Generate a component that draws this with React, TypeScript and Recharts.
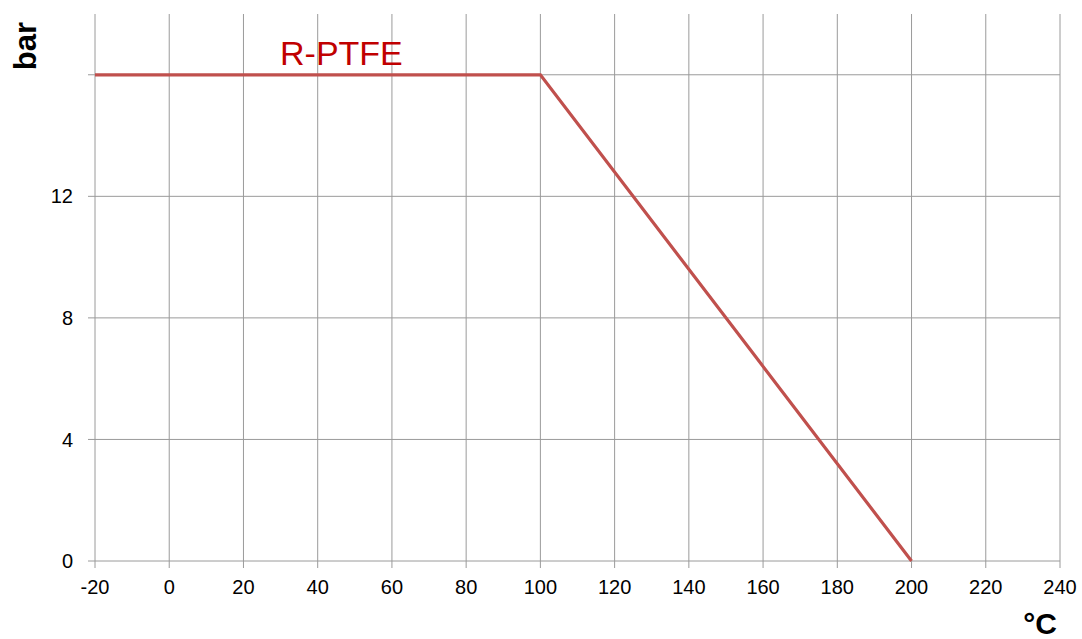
import { CartesianGrid, Line, LineChart, XAxis, YAxis } from 'recharts';

// R-PTFE pressure / temperature curve
const temperatures = [-20, 100, 200];
const pressures = [16, 16, 0];

const xTicks = [-20, 0, 20, 40, 60, 80, 100, 120, 140, 160, 180, 200, 220, 240];
const yTicks = [0, 4, 8, 12, 16];
const hiddenYLabels = [16];
const yDomain = [0, 18];

const seriesName = 'R-PTFE';
const xTitle = '°C';
const yTitle = 'bar';

const chartData = temperatures.map((t, i) => ({ temp: t, pressure: pressures[i] }));

const font = '"Liberation Sans", Arial, sans-serif';
const gridColor = '#9a9a9a';

// only the tick rows, no line along the top edge of the plot
const gridRows = ({ offset, height }: any) => {
  const top = offset?.top ?? 14;
  const h = offset?.height ?? height - 14 - 78;
  return yTicks.map((v) => top + h * (1 - (v - yDomain[0]) / (yDomain[1] - yDomain[0])));
};

export default function App() {
  return (
    <div style={{ position: 'absolute', left: 0, top: 0, width: 1082, height: 639, background: '#fff' }}>
      <LineChart
        width={1082}
        height={639}
        data={chartData}
        margin={{ top: 14, right: 22, bottom: 48, left: 0 }}
      >
        <CartesianGrid stroke={gridColor} strokeWidth={1} horizontalCoordinatesGenerator={gridRows} />
        <XAxis
          dataKey='temp'
          type='number'
          domain={[-20, 240]}
          ticks={xTicks}
          height={30}
          axisLine={false}
          tickLine={{ stroke: gridColor }}
          tickSize={7}
          tickMargin={12}
          tick={{ fill: '#000', fontSize: 20, fontFamily: font }}
          interval={0}
        />
        <YAxis
          type='number'
          domain={yDomain}
          ticks={yTicks}
          width={95}
          axisLine={false}
          tickLine={{ stroke: gridColor }}
          tickSize={7}
          tickMargin={15}
          tick={{ fill: '#000', fontSize: 20, fontFamily: font }}
          tickFormatter={(v: number) => (hiddenYLabels.includes(v) ? '' : String(v))}
          interval={0}
        />
        <Line
          dataKey='pressure'
          stroke='#c0504d'
          strokeWidth={3.2}
          dot={false}
          activeDot={false}
          isAnimationActive={false}
        />
      </LineChart>
      <svg
        width={1082}
        height={639}
        style={{ position: 'absolute', left: 0, top: 0, pointerEvents: 'none' }}
      >
        <text x={280} y={65} fill='#c00000' fontSize={34} fontFamily={font}>
          {seriesName}
        </text>
        <text
          transform='translate(36,46) rotate(-90)'
          textAnchor='middle'
          fill='#000'
          fontSize={31}
          fontWeight='bold'
          fontFamily={font}
        >
          {yTitle}
        </text>
        <text x={1040} y={634} textAnchor='middle' fill='#000' fontSize={30} fontWeight='bold' fontFamily={font}>
          {xTitle}
        </text>
      </svg>
    </div>
  );
}
